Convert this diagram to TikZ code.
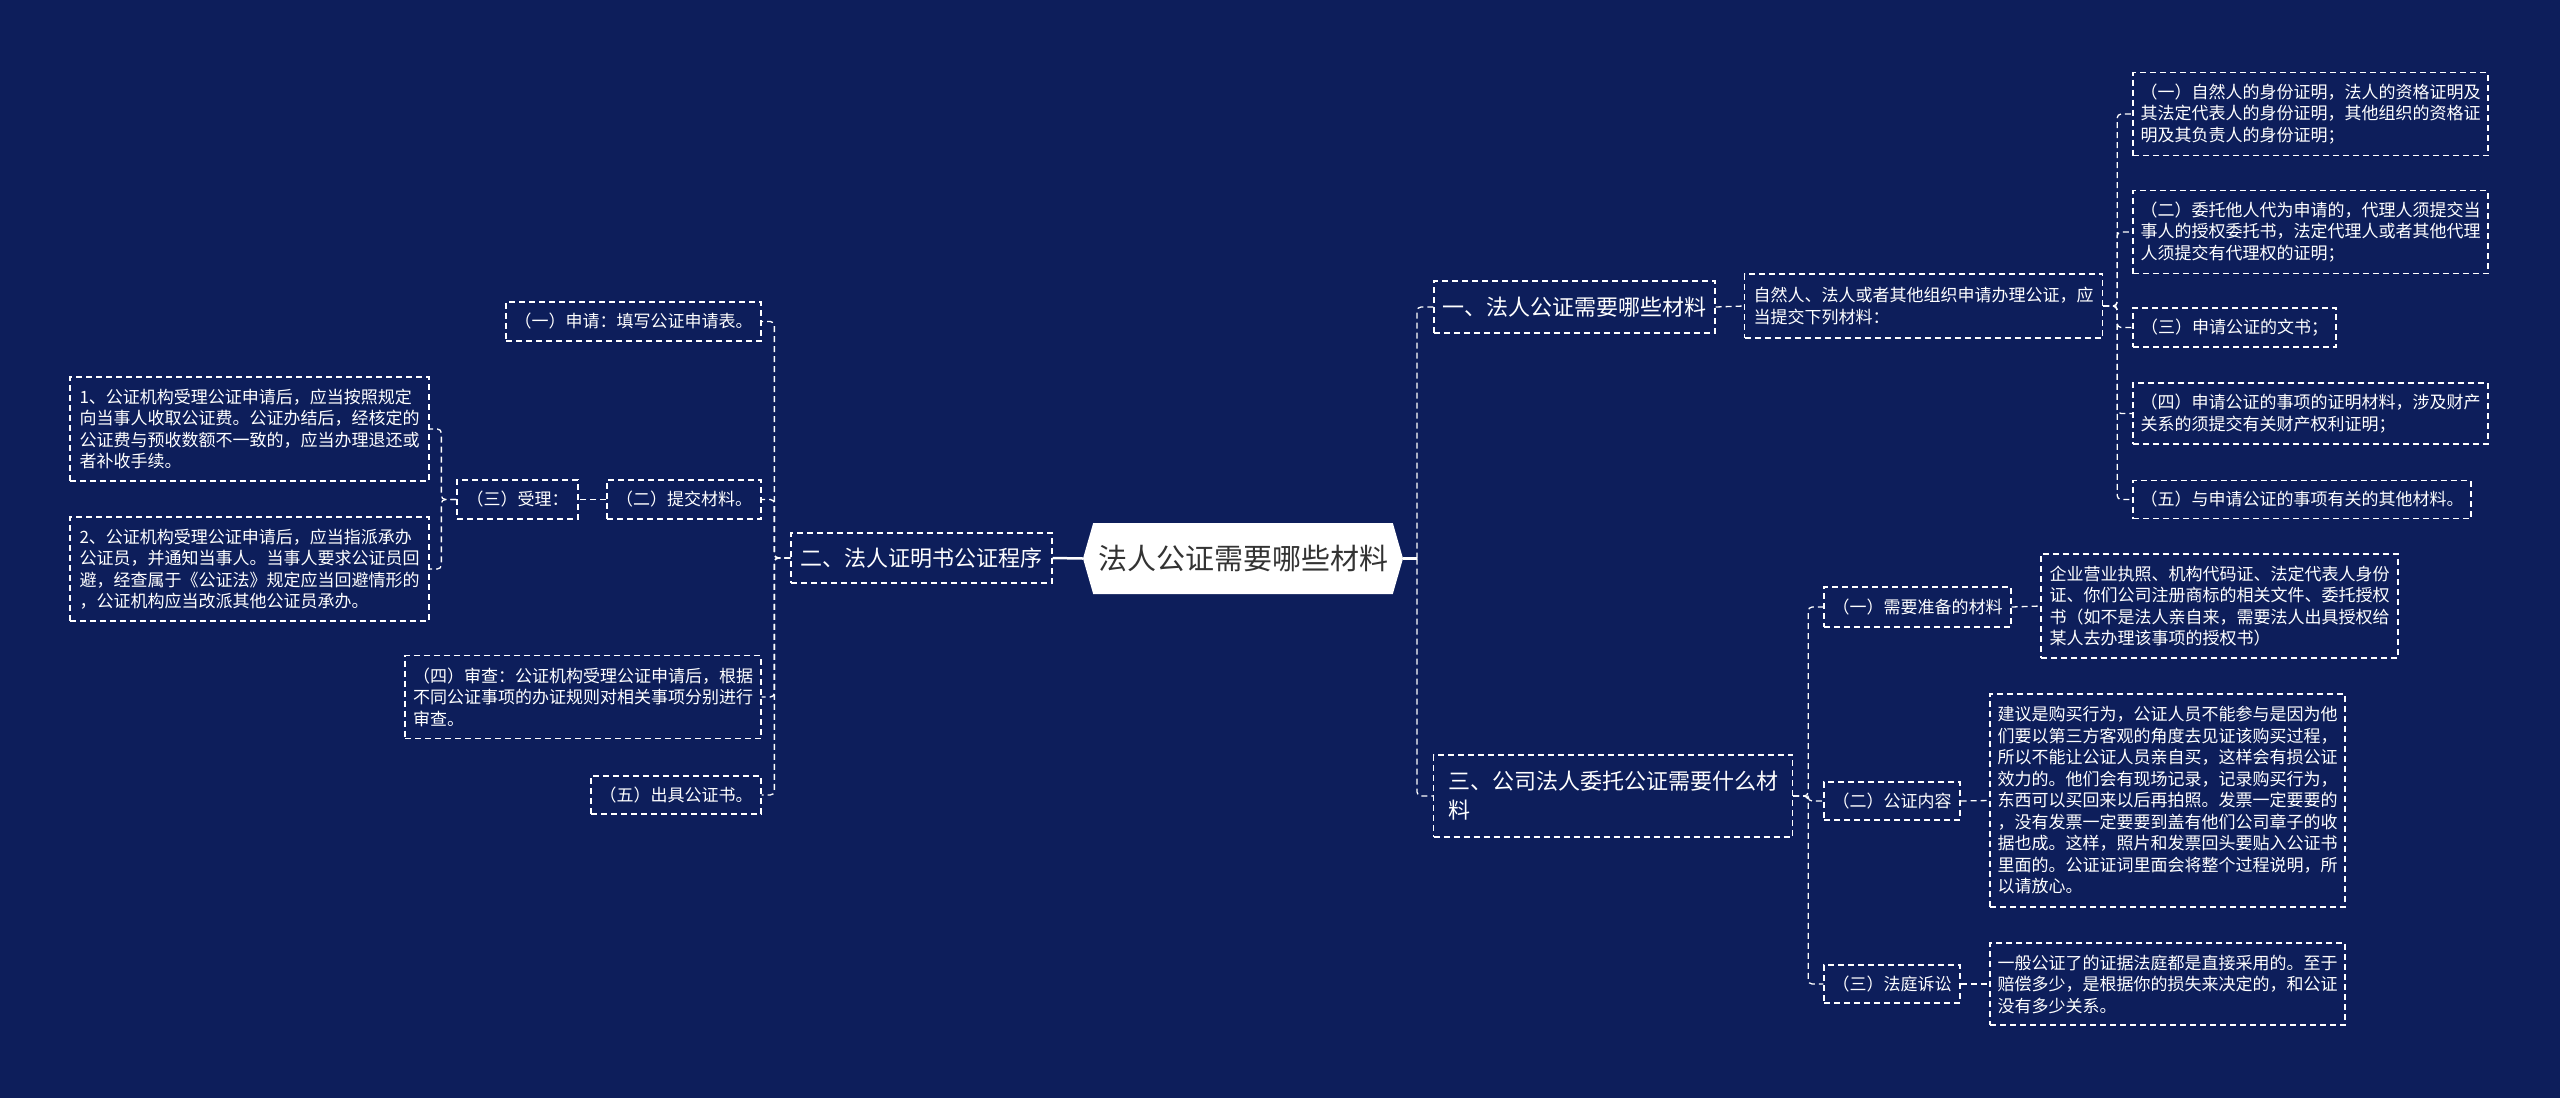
\documentclass[tikz,border=0pt]{standalone}
\usepackage{fontspec}
\setmainfont{Noto Sans CJK SC}
\usetikzlibrary{shapes.symbols}
\definecolor{bgNavy}{HTML}{0D1E5B}
\definecolor{rootText}{HTML}{333333}

\begin{document}
\begin{tikzpicture}[x=1pt, y=-1pt,
    leaf/.style={draw=white, line width=1.3pt, dash pattern=on 6pt off 4pt, text=white,
      font=\fontsize{17}{21.5}\selectfont, align=left, inner sep=3pt},
    branch/.style={leaf, font=\fontsize{22}{29}\selectfont},
    link/.style={draw=white, line width=1.3pt, dash pattern=on 6pt off 4pt, rounded corners=4pt},
    rootlink/.style={draw=white, line width=2.5pt}]
    \useasboundingbox (0,0) rectangle (2560,1098);
    \fill[bgNavy] (0,0) rectangle (2560,1098);

    % Centre topic
    \node[signal, signal to=west and east, signal pointer angle=148, fill=white, text=rootText,
        font=\fontsize{29}{34}\selectfont, minimum width=320pt, minimum height=71pt, inner sep=2pt] (root) at (1243,558.5)
        {法人公证需要哪些材料};

    % Left branch: procedure
    \node[branch, minimum width=261pt, minimum height=50pt] (proc) at (921.5,558)
        {二、法人证明书公证程序};
    \node[leaf, minimum width=255pt, minimum height=39pt] (apply) at (633.5,321.5)
        {（一）申请：填写公证申请表。};
    \node[leaf, minimum width=154pt, minimum height=39pt] (submit) at (684,499.5)
        {（二）提交材料。};
    \node[leaf, minimum width=121pt, minimum height=39pt] (accept) at (517.5,499.5)
        {（三）受理：};
    \node[leaf, minimum width=359pt, minimum height=104pt] (fee) at (249.5,429)
        {1、公证机构受理公证申请后，应当按照规定\\
         向当事人收取公证费。公证办结后，经核定的\\
         公证费与预收数额不一致的，应当办理退还或\\
         者补收手续。};
    \node[leaf, minimum width=359pt, minimum height=104pt] (avoid) at (249.5,569)
        {2、公证机构受理公证申请后，应当指派承办\\
         公证员，并通知当事人。当事人要求公证员回\\
         避，经查属于《公证法》规定应当回避情形的\\
         ，公证机构应当改派其他公证员承办。};
    \node[leaf, minimum width=356pt, minimum height=83pt] (review) at (583,697)
        {（四）审查：公证机构受理公证申请后，根据\\
         不同公证事项的办证规则对相关事项分别进行\\
         审查。};
    \node[leaf, minimum width=170pt, minimum height=38pt] (issue) at (676,795)
        {（五）出具公证书。};

    % Right branch: materials
    \node[branch, minimum width=281pt, minimum height=52pt] (mats) at (1574.5,307)
        {一、法人公证需要哪些材料};
    \node[leaf, minimum width=358pt, minimum height=64pt] (intro) at (1923.5,306)
        {自然人、法人或者其他组织申请办理公证，应\\
         当提交下列材料：};
    \node[leaf, minimum width=355pt, minimum height=83pt] (idproof) at (2310.5,114)
        {（一）自然人的身份证明，法人的资格证明及\\
         其法定代表人的身份证明，其他组织的资格证\\
         明及其负责人的身份证明；};
    \node[leaf, minimum width=355pt, minimum height=83pt] (proxy) at (2310.5,232)
        {（二）委托他人代为申请的，代理人须提交当\\
         事人的授权委托书，法定代理人或者其他代理\\
         人须提交有代理权的证明；};
    \node[leaf, minimum width=203pt, minimum height=39pt] (form) at (2234.5,327.5)
        {（三）申请公证的文书；};
    \node[leaf, minimum width=355pt, minimum height=61pt] (evid) at (2310.5,413.5)
        {（四）申请公证的事项的证明材料，涉及财产\\
         关系的须提交有关财产权利证明；};
    \node[leaf, minimum width=338pt, minimum height=38pt] (other) at (2302,499.5)
        {（五）与申请公证的事项有关的其他材料。};

    % Right branch: company entrusting
    \node[branch, minimum width=359pt, minimum height=82pt] (corp) at (1613,796)
        {三、公司法人委托公证需要什么材\\料};
    \node[leaf, minimum width=187pt, minimum height=40pt] (prep) at (1917.5,607)
        {（一）需要准备的材料};
    \node[leaf, minimum width=357pt, minimum height=104pt] (prepTxt) at (2219.5,606)
        {企业营业执照、机构代码证、法定代表人身份\\
         证、你们公司注册商标的相关文件、委托授权\\
         书（如不是法人亲自来，需要法人出具授权给\\
         某人去办理该事项的授权书）};
    \node[leaf, minimum width=136pt, minimum height=38pt] (content) at (1892,801)
        {（二）公证内容};
    \node[leaf, minimum width=355pt, minimum height=213pt] (contentTxt) at (2167.5,800.5)
        {建议是购买行为，公证人员不能参与是因为他\\
         们要以第三方客观的角度去见证该购买过程，\\
         所以不能让公证人员亲自买，这样会有损公证\\
         效力的。他们会有现场记录，记录购买行为，\\
         东西可以买回来以后再拍照。发票一定要要的\\
         ，没有发票一定要要到盖有他们公司章子的收\\
         据也成。这样，照片和发票回头要贴入公证书\\
         里面的。公证证词里面会将整个过程说明，所\\
         以请放心。};
    \node[leaf, minimum width=136pt, minimum height=38pt] (court) at (1892,984)
        {（三）法庭诉讼};
    \node[leaf, minimum width=355pt, minimum height=82pt] (courtTxt) at (2167.5,984)
        {一般公证了的证据法庭都是直接采用的。至于\\
         赔偿多少，是根据你的损失来决定的，和公证\\
         没有多少关系。};

    % Connectors
    \coordinate (rj) at (1417,558.5);
    \draw[rootlink] (root.west) -- (proc.east);
    \draw[rootlink] (root.east) -- (rj);
    \draw[link] (rj) |- (mats.west);
    \draw[link] (rj) |- (corp.west);

    \draw[link] (proc.west) -- ++(-16,0) |- (apply.east);
    \draw[link] (proc.west) -- ++(-16,0) |- (submit.east);
    \draw[link] (proc.west) -- ++(-16,0) |- (review.east);
    \draw[link] (proc.west) -- ++(-16,0) |- (issue.east);
    \draw[link] (submit.west) -- (accept.east);
    \draw[link] (accept.west) -- ++(-15,0) |- (fee.east);
    \draw[link] (accept.west) -- ++(-15,0) |- (avoid.east);

    \draw[link] (mats.east) -- (intro.west);
    \foreach \kid in {idproof,proxy,form,evid,other}
        \draw[link] (intro.east) -- ++(14,0) |- (\kid.west);

    \foreach \kid in {prep,content,court}
        \draw[link] (corp.east) -- ++(15,0) |- (\kid.west);
    \draw[link] (prep.east) -- (prepTxt.west);
    \draw[link] (content.east) -- (contentTxt.west);
    \draw[link] (court.east) -- (courtTxt.west);
\end{tikzpicture}
\end{document}
